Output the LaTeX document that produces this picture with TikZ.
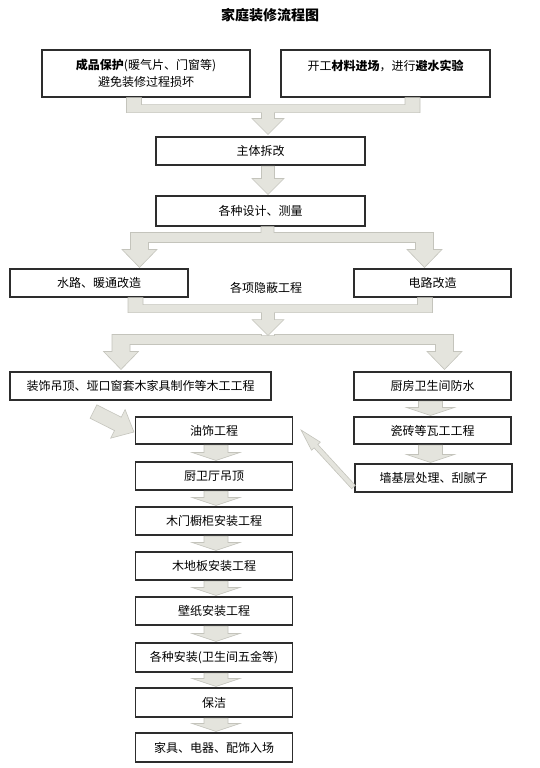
\documentclass[tikz,border=0pt]{standalone}
\usepackage{fontspec}
\setmainfont{Noto Sans CJK SC}
\usetikzlibrary{calc}
\definecolor{arrfill}{RGB}{228,228,221}
\definecolor{arrline}{RGB}{196,196,188}
\definecolor{boxline}{RGB}{45,45,45}
\tikzset{
  box/.style={draw=boxline, line width=1.1pt, fill=white, inner sep=0pt, align=center,
              font=\fontsize{12}{17}\selectfont, text=black},
  barrow/.style={fill=arrfill, draw=arrline, line width=0.6pt, line join=miter},
  lbl/.style={font=\fontsize{12}{17}\selectfont, text=black, inner sep=0pt}
}
% general block arrow: tail, tip, half shaft, half head, head length
\newcommand\bkarrow[5]{%
  \coordinate (bkH) at ($(#2)!#5pt!(#1)$);
  \draw[barrow] ($(#1)!#3pt!90:(#2)$) -- ($(bkH)!#3pt!90:(#2)$) -- ($(bkH)!#4pt!90:(#2)$)
    -- (#2) -- ($(bkH)!#4pt!-90:(#2)$) -- ($(bkH)!#3pt!-90:(#2)$) -- ($(#1)!#3pt!-90:(#2)$) -- cycle;}
% merge: left stub top, right stub top, tip
\newcommand\mymerge[3]{%
  \draw[barrow] ($(#1)+(-7.5,0)$) -- ($(#1)+(7.5,0)$) -- ($(#1)+(7.5,7)$) -- ($(#2)+(-7.5,7)$)
    -- ($(#2)+(-7.5,0)$) -- ($(#2)+(7.5,0)$) -- ($(#2)+(7.5,15)$) -- ($(#3 |- #1)+(6.5,15)$)
    -- ($(#3)+(6.5,-16)$) -- ($(#3)+(16,-16)$) -- (#3) -- ($(#3)+(-16,-16)$) -- ($(#3)+(-6.5,-16)$)
    -- ($(#3 |- #1)+(-6.5,15)$) -- ($(#1)+(-7.5,15)$) -- cycle;}
% split: source, left tip, right tip
\newcommand\mysplit[3]{%
  \draw[barrow] ($(#1)+(-6.5,0)$) -- ($(#1)+(6.5,0)$) -- ($(#1 |- #3)+(6.5,-35)$) -- ($(#3)+(9,-35)$)
    -- ($(#3)+(9,-18)$) -- ($(#3)+(17.5,-18)$) -- (#3) -- ($(#3)+(-17.5,-18)$) -- ($(#3)+(-9,-18)$)
    -- ($(#3)+(-9,-25)$) -- ($(#2)+(9,-25)$) -- ($(#2)+(9,-18)$) -- ($(#2)+(17.5,-18)$) -- (#2)
    -- ($(#2)+(-17.5,-18)$) -- ($(#2)+(-9,-18)$) -- ($(#2)+(-9,-35)$) -- ($(#1 |- #2)+(-6.5,-35)$) -- cycle;}
\begin{document}
\begin{tikzpicture}[x=1pt,y=-1pt]
\useasboundingbox (0,0) rectangle (539,768);
\fill[white] (0,0) rectangle (539,768);

\node[font=\bfseries\fontsize{14}{16}\selectfont, text=black] (title) at (270,15) {家庭装修流程图};

% boxes
\node[box, minimum width=208pt, minimum height=47pt] (b1) at (146,73.5) {\textbf{成品保护}(暖气片、门窗等)\\避免装修过程损坏};
\node[box, minimum width=209pt, minimum height=47pt] (b2) at (385.5,73.5) {开工\textbf{材料进场}，进行\textbf{避水实验}\\\mbox{}};
\node[box, minimum width=209pt, minimum height=28pt] (b3) at (260.5,151) {主体拆改};
\node[box, minimum width=209pt, minimum height=30pt] (b4) at (260.5,211) {各种设计、测量};
\node[box, minimum width=178pt, minimum height=28pt] (b5) at (99,283) {水路、暖通改造};
\node[box, minimum width=157pt, minimum height=28pt] (b6) at (432.5,283) {电路改造};
\node[lbl] (hid) at (266,288) {各项隐蔽工程};
\node[box, minimum width=261pt, minimum height=28pt] (b7) at (140.5,386) {装饰吊顶、垭口窗套木家具制作等木工工程};
\node[box, minimum width=157pt, minimum height=28pt] (b8) at (432.5,386) {厨房卫生间防水};
\node[box, minimum width=157pt, minimum height=27pt] (b9) at (432.5,430.5) {瓷砖等瓦工工程};
\node[box, minimum width=157pt, minimum height=28pt] (b10) at (433.5,478) {墙基层处理、刮腻子};
\node[box, minimum width=157pt, minimum height=27pt] (b11) at (214,430.5) {油饰工程};
\node[box, minimum width=157pt, minimum height=28pt] (b12) at (214,476) {厨卫厅吊顶};
\node[box, minimum width=157pt, minimum height=28pt] (b13) at (214,521) {木门橱柜安装工程};
\node[box, minimum width=157pt, minimum height=28pt] (b14) at (214,566) {木地板安装工程};
\node[box, minimum width=157pt, minimum height=28pt] (b15) at (214,611) {壁纸安装工程};
\node[box, minimum width=157pt, minimum height=29pt] (b16) at (214,657.5) {各种安装(卫生间五金等)};
\node[box, minimum width=157pt, minimum height=29pt] (b17) at (214,702.5) {保洁};
\node[box, minimum width=157pt, minimum height=29pt] (b18) at (214,747.5) {家具、电器、配饰入场};

% merge 1
\coordinate (m1l) at ($(b1.south)+(-12,0)$);
\coordinate (m1r) at ($(b2.south)+(27,0)$);
\coordinate (m1t) at ($(b3.north)+(7.5,-2)$);
\mymerge{m1l}{m1r}{m1t}
% arrow b3 -> b4
\coordinate (a2s) at ($(b3.south)+(7.5,0.5)$);
\coordinate (a2e) at ($(b4.north)+(7.5,-1)$);
\bkarrow{a2s}{a2e}{6.5}{16}{16}
% split 1
\coordinate (s1s) at ($(b4.south)+(7,0)$);
\coordinate (s1l) at ($(b5.north)+(40.5,-1)$);
\coordinate (s1r) at ($(b6.north)+(-8,-1)$);
\mysplit{s1s}{s1l}{s1r}
% merge 2
\coordinate (m2l) at ($(b5.south)+(36.5,0)$);
\coordinate (m2r) at ($(b6.south)+(-7.5,0)$);
\coordinate (m2t) at ($(b5.south -| b4.south)+(7.5,38)$);
\mymerge{m2l}{m2r}{m2t}
% split 2
\coordinate (s2l) at ($(b7.north)+(-19.5,-2)$);
\coordinate (s2r) at ($(b8.north)+(12,-2)$);
\mysplit{m2t}{s2l}{s2r}

% right column
\coordinate (r1s) at ($(b8.south)+(-2,0.5)$);
\coordinate (r1e) at ($(b9.north)+(-2,-1)$);
\bkarrow{r1s}{r1e}{12}{24}{8}
\coordinate (r2s) at ($(b9.south)+(-2,0.5)$);
\coordinate (r2e) at ($(b10.north)+(-3,-1)$);
\bkarrow{r2s}{r2e}{12}{24}{8}

% left column
\foreach \i [evaluate=\i as \j using int(\i+1)] in {11,...,17}{
  \coordinate (c\i s) at ($(b\i.south)+(2,0.5)$);
  \coordinate (c\i e) at ($(b\j.north)+(2,-1)$);
  \bkarrow{c\i s}{c\i e}{12}{24}{8}
}

% diagonal arrows
\coordinate (d1s) at ($(b7.south)+(-47,11)$);
\coordinate (d1e) at ($(b11.west)+(-1,1.5)$);
\bkarrow{d1s}{d1e}{7.5}{16}{18}
\coordinate (d2s) at ($(b10.west)+(-1,9)$);
\coordinate (d2e) at ($(b11.east)+(8,-0.5)$);
\bkarrow{d2s}{d2e}{2.5}{6}{22}
\end{tikzpicture}
\end{document}
